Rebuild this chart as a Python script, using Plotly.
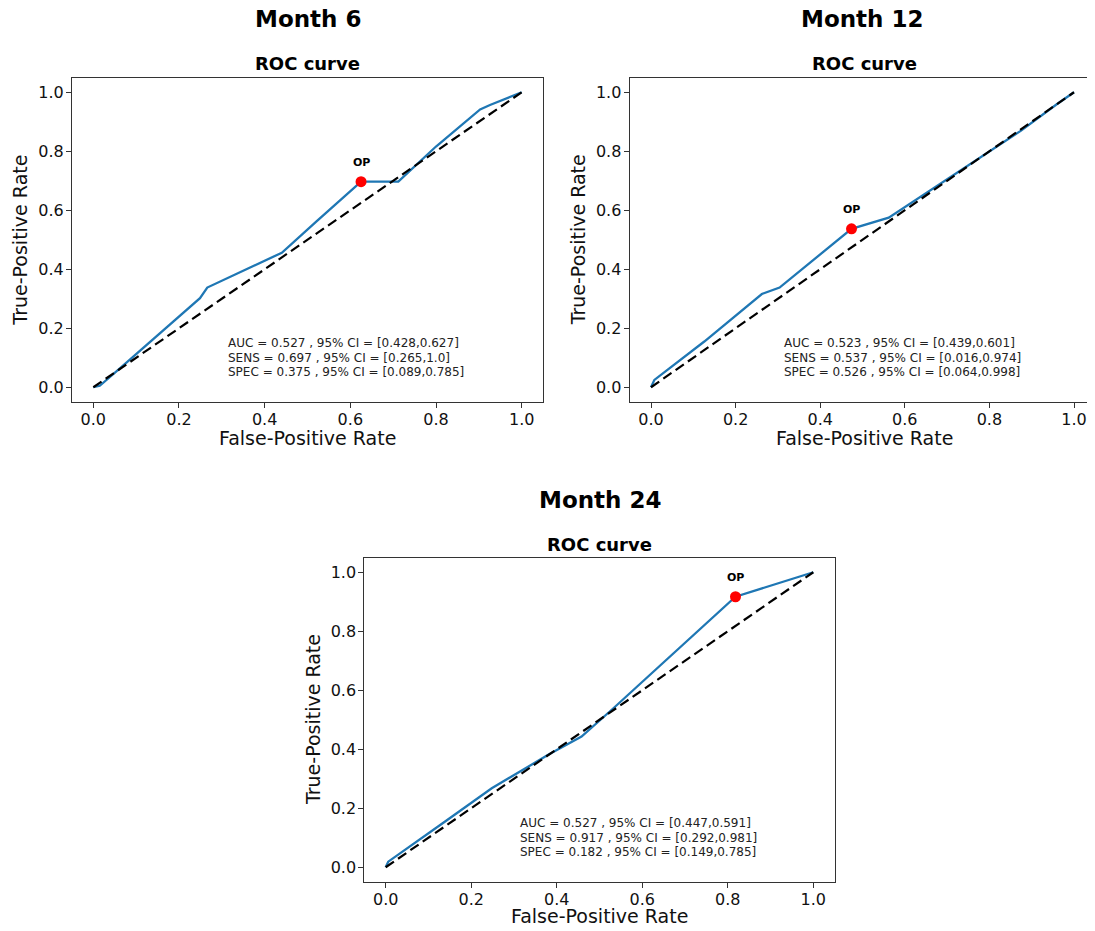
import plotly.graph_objects as go

# page body has an 8px margin, so the figure is placed at (8, 8) in the window;
# keep the page from overflowing (no scrollbars)
OFF = 8
W, H = 1095 - OFF, 931 - 2 * OFF

# ---------------- data ----------------
panel_names = ["Month 6", "Month 12", "Month 24"]

m6_fpr = [0.0, 0.015, 0.062, 0.249, 0.266, 0.44, 0.521, 0.625, 0.712, 0.80, 0.903, 0.926, 1.0]
m6_tpr = [0.0, 0.005, 0.064, 0.302, 0.338, 0.456, 0.562, 0.697, 0.697, 0.816, 0.942, 0.957, 1.0]

m12_fpr = [0.0, 0.008, 0.126, 0.262, 0.304, 0.474, 0.562, 0.718, 0.874, 0.96, 1.0]
m12_tpr = [0.0, 0.025, 0.155, 0.316, 0.338, 0.537, 0.575, 0.722, 0.869, 0.960, 1.0]

m24_fpr = [0.0, 0.006, 0.139, 0.248, 0.380, 0.458, 0.528, 0.614, 0.818, 1.0]
m24_tpr = [0.0, 0.019, 0.155, 0.268, 0.381, 0.443, 0.533, 0.646, 0.917, 1.0]

diag = [0.0, 1.0]

auc = [0.527, 0.523, 0.527]
auc_ci = [(0.428, 0.627), (0.439, 0.601), (0.447, 0.591)]
sens = [0.697, 0.537, 0.917]
sens_ci = [("0.265", "1.0"), ("0.016", "0.974"), ("0.292", "0.981")]
spec = [0.375, 0.526, 0.182]
spec_ci = [(0.089, 0.785), (0.064, 0.998), (0.149, 0.785)]

op_fpr = [0.625, 0.474, 0.818]
op_tpr = [0.697, 0.537, 0.917]

tick_vals = [0.0, 0.2, 0.4, 0.6, 0.8, 1.0]
tick_text = ["0.0", "0.2", "0.4", "0.6", "0.8", "1.0"]

curves = [(m6_fpr, m6_tpr), (m12_fpr, m12_tpr), (m24_fpr, m24_tpr)]

# ---------------- layout geometry (window pixels) ----------------
# frame: left, right, top, bottom
frames = [
    (71.9, 543.1, 77.5, 402.0),
    (629.6, 1087.0, 77.5, 402.0),
    (364.3, 834.7, 557.5, 882.0),
]
x_ranges = [[-0.05, 1.05], [-0.0506, 1.0307], [-0.05, 1.05]]
xtitle_gap = [36.5, 36.5, 34.0]

FONT = "DejaVu Sans"

fig = go.Figure()
annotations = []
layout_axes = {}

def py(ypix):
    return 1 - (ypix - OFF) / H

def px(xpix):
    return (xpix - OFF) / W

for i, (fx, fy) in enumerate(curves):
    suffix = "" if i == 0 else str(i + 1)
    xa, ya = "x" + suffix, "y" + suffix
    l, r, t, b = frames[i]

    fig.add_trace(go.Scatter(x=fx, y=fy, mode="lines", xaxis=xa, yaxis=ya,
                             line=dict(color="#1f77b4", width=2.3), showlegend=False,
                             hoverinfo="skip"))
    fig.add_trace(go.Scatter(x=diag, y=diag, mode="lines", xaxis=xa, yaxis=ya,
                             line=dict(color="black", width=2.2, dash="10px,5px"),
                             showlegend=False, hoverinfo="skip"))
    fig.add_trace(go.Scatter(x=[op_fpr[i]], y=[op_tpr[i]], mode="markers", xaxis=xa, yaxis=ya,
                             marker=dict(color="#ff0000", size=11, line=dict(width=0)),
                             showlegend=False, hoverinfo="skip"))

    axis_common = dict(
        showgrid=False, zeroline=False, showline=True, mirror=True,
        linecolor="#333333", linewidth=1, ticks="outside", ticklen=5, tickwidth=1,
        tickcolor="#333333", tickvals=tick_vals, ticktext=tick_text,
        tickfont=dict(family=FONT, size=16, color="#111111"),
    )
    layout_axes["xaxis" + suffix] = dict(axis_common, domain=[px(l), min(1.0, px(r))],
                                         range=x_ranges[i], anchor=ya, ticklabelstandoff=-2)
    layout_axes["yaxis" + suffix] = dict(axis_common, domain=[py(b), py(t)], range=[-0.05, 1.05],
                                         anchor=xa, ticklabelstandoff=-1)

    cx = (l + r) / 2 if i != 1 else 864.0
    # Month title
    annotations.append(dict(text="<b>" + panel_names[i] + "</b>", x=px(cx - (2 if i == 1 else 0)),
                            y=py(t - 58),
                            xref="paper", yref="paper", showarrow=False, xanchor="center",
                            yanchor="middle", font=dict(family=FONT, size=23, color="black")))
    # ROC curve title
    annotations.append(dict(text="<b>ROC curve</b>", x=px(cx), y=py(t - 13.5),
                            xref="paper", yref="paper", showarrow=False, xanchor="center",
                            yanchor="middle", font=dict(family=FONT, size=18, color="black")))
    # axis titles
    annotations.append(dict(text="False-Positive Rate", x=px(cx), y=py(b + xtitle_gap[i]),
                            xref="paper", yref="paper", showarrow=False, xanchor="center",
                            yanchor="middle", font=dict(family=FONT, size=19, color="#111111")))
    annotations.append(dict(text="True-Positive Rate", x=px(l - 52), y=py((t + b) / 2),
                            xref="paper", yref="paper", showarrow=False, xanchor="center",
                            yanchor="middle", textangle=-90,
                            font=dict(family=FONT, size=19, color="#111111")))
    # OP label
    annotations.append(dict(text="<b>OP</b>", x=op_fpr[i], y=op_tpr[i], xref=xa, yref=ya,
                            showarrow=False, xanchor="center", yanchor="middle", yshift=19,
                            font=dict(family=FONT, size=11, color="black")))
    # stats text
    lines = [
        "AUC = {:.3f} , 95% CI = [{},{}]".format(auc[i], auc_ci[i][0], auc_ci[i][1]),
        "SENS = {:.3f} , 95% CI = [{},{}]".format(sens[i], sens_ci[i][0], sens_ci[i][1]),
        "SPEC = {:.3f} , 95% CI = [{},{}]".format(spec[i], spec_ci[i][0], spec_ci[i][1]),
    ]
    for k, (txt, yy) in enumerate(zip(lines, [0.149, 0.100, 0.053])):
        annotations.append(dict(text=txt, x=0.31, y=yy, xref=xa, yref=ya, showarrow=False,
                                xanchor="left", yanchor="middle",
                                font=dict(family=FONT, size=12, color="#222222")))

fig.update_layout(
    width=W, height=H,
    margin=dict(l=0, r=0, t=0, b=0, pad=0),
    paper_bgcolor="white", plot_bgcolor="white",
    annotations=annotations,
    **layout_axes,
)

fig.write_html("out.html")
